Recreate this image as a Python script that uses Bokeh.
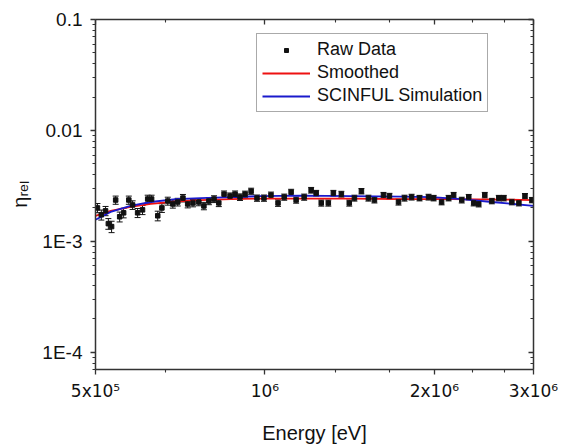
from bokeh.plotting import figure
from bokeh.models import (LogAxis, FixedTicker, CustomJSTickFormatter, Whisker, TeeHead,
                          ColumnDataSource, Range1d, Legend, LegendItem)
from bokeh.embed import file_html
from bokeh.resources import INLINE

# ---- data ----
energy_keV = [504, 512, 521, 527, 534, 543, 552, 561, 573, 582, 594, 606, 619, 629, 645,
              656, 672, 686, 700, 715, 729, 745, 763, 779, 795, 812, 828, 846, 867, 885,
              903, 922, 945, 968, 996, 1025, 1055, 1082, 1113, 1136, 1174, 1208, 1233, 1259,
              1296, 1323, 1367, 1412, 1442, 1484, 1527, 1565, 1624, 1664, 1727, 1770, 1822,
              1882, 1953, 1994, 2060, 2120, 2164, 2237, 2302, 2349, 2398, 2458, 2530, 2603,
              2657, 2746, 2826, 2897, 2981]
eta_raw_e3 = [2.003, 1.736, 1.884, 1.445, 1.359, 2.359, 1.667, 1.809, 2.359, 2.130, 1.809,
              1.923, 2.407, 2.407, 1.701, 2.003, 2.311, 2.174, 2.264, 2.457, 2.174, 2.218,
              2.264, 2.087, 2.311, 2.407, 2.218, 2.666, 2.560, 2.666, 2.508, 2.666, 2.835,
              2.457, 2.457, 2.612, 2.218, 2.508, 2.777, 2.359, 2.508, 2.893, 2.721, 2.218,
              2.218, 2.721, 2.666, 2.218, 2.457, 2.835, 2.457, 2.359, 2.612, 2.560, 2.264,
              2.457, 2.508, 2.457, 2.508, 2.457, 2.264, 2.457, 2.612, 2.359, 2.508, 2.218,
              2.174, 2.612, 2.311, 2.457, 2.457, 2.264, 2.218, 2.560, 2.359]
eta_err_e3 = [0.19, 0.18, 0.18, 0.16, 0.16, 0.20, 0.17, 0.18, 0.20, 0.19, 0.17,
              0.18, 0.20, 0.20, 0.17, 0.18, 0.19, 0.18, 0.18, 0.19, 0.17, 0.17,
              0.17, 0.16, 0.17, 0.17, 0.16, 0.18, 0.17, 0.18, 0.17, 0.17, 0.18,
              0.16, 0.16, 0.17, 0.15, 0.16, 0.17, 0.15, 0.16, 0.17, 0.16, 0.14,
              0.14, 0.16, 0.16, 0.14, 0.15, 0.16, 0.15, 0.14, 0.15, 0.15, 0.14,
              0.15, 0.15, 0.14, 0.15, 0.14, 0.13, 0.14, 0.15, 0.14, 0.14, 0.13,
              0.13, 0.15, 0.13, 0.14, 0.14, 0.13, 0.13, 0.14, 0.13]

smooth_keV = [500, 532, 577, 627, 694, 769, 870, 984, 1160, 1424, 1748, 2147, 2636, 3000]
smooth_e3 = [1.701, 1.884, 2.044, 2.174, 2.287, 2.359, 2.407, 2.432, 2.432, 2.432, 2.407,
             2.407, 2.383, 2.359]

sim_keV = [500, 532, 577, 627, 694, 769, 870, 984, 1160, 1424, 1748, 1977, 2237, 2530, 3000]
sim_e3 = [1.568, 1.846, 2.087, 2.264, 2.407, 2.457, 2.508, 2.560, 2.586, 2.560, 2.534,
          2.508, 2.407, 2.264, 2.087]

x_ticks = [5e5, 1e6, 2e6, 3e6]
x_tick_labels = ["5x10\u2075", "10\u2076", "2x10\u2076", "3x10\u2076"]
x_minor = [6.667e5, 1.333e6, 1.667e6, 2.333e6, 2.667e6]
y_ticks = [1e-4, 1e-3, 1e-2, 1e-1]
y_tick_labels = ["1E-4", "1E-3", "0.01", "0.1"]
y_minor = [k * 10.0 ** n for n in (-5, -4, -3, -2) for k in range(2, 10)]

# ---- derived columns ----
E = [v * 1e3 for v in energy_keV]
Y = [v * 1e-3 for v in eta_raw_e3]
ERR = [v * 1e-3 for v in eta_err_e3]
src = ColumnDataSource(dict(x=E, y=Y,
                            lo=[a - b for a, b in zip(Y, ERR)],
                            hi=[a + b for a, b in zip(Y, ERR)]))

FONT = "Liberation Sans"
AX = "#333333"

p = figure(width=563, height=446, x_axis_type="log", y_axis_type="log",
           x_range=Range1d(5e5, 3e6), y_range=Range1d(7e-5, 0.1),
           output_backend="svg", toolbar_location=None,
           min_border_left=95, min_border_right=30, min_border_top=19, min_border_bottom=72)
p.outline_line_color = None
p.xgrid.visible = False
p.ygrid.visible = False
p.background_fill_color = "white"
p.border_fill_color = "white"


def fmt(ticks, labels):
    return CustomJSTickFormatter(args=dict(T=ticks, L=labels), code="""
        for (let i = 0; i < T.length; i++) {
            if (Math.abs(Math.log10(tick) - Math.log10(T[i])) < 1e-6) return L[i];
        }
        return "";
    """)


blank = CustomJSTickFormatter(code="return '';")


def style(ax, inward):
    ax.axis_line_color = AX
    ax.axis_line_width = 1.5
    ax.major_tick_line_color = AX
    ax.minor_tick_line_color = AX
    ax.major_tick_line_width = 1.3
    ax.minor_tick_line_width = 1.1
    if inward:
        ax.major_tick_in, ax.major_tick_out = 5, 0
        ax.minor_tick_in, ax.minor_tick_out = 3, 0
        ax.formatter = blank
        ax.major_label_standoff = 0
    else:
        ax.major_tick_in, ax.major_tick_out = 0, 5
        ax.minor_tick_in, ax.minor_tick_out = 0, 3
        ax.major_label_text_font = FONT
        ax.major_label_text_font_size = "19px"
        ax.major_label_text_color = "#111111"
        ax.axis_label_text_font = FONT
        ax.axis_label_text_font_size = "20px"
        ax.axis_label_text_font_style = "normal"
        ax.axis_label_text_color = "#111111"


xt = FixedTicker(ticks=x_ticks, minor_ticks=x_minor)
yt = FixedTicker(ticks=y_ticks, minor_ticks=y_minor)

style(p.xaxis[0], False)
style(p.yaxis[0], False)
p.xaxis.ticker = xt
p.xaxis.formatter = fmt(x_ticks, x_tick_labels)
p.xaxis.axis_label = "Energy [eV]"
p.xaxis.major_label_text_font = "DejaVu Sans"
p.xaxis.major_label_text_font_size = "17px"
p.xaxis.major_label_standoff = 6
p.xaxis.axis_label_standoff = 18
p.yaxis.ticker = yt
p.yaxis.formatter = fmt(y_ticks, y_tick_labels)
p.yaxis.axis_label = "\u03b7\u1d63\u2091\u2097"
p.yaxis.major_label_standoff = 8
p.yaxis.axis_label_standoff = 8

top = LogAxis(ticker=FixedTicker(ticks=x_ticks, minor_ticks=x_minor))
right = LogAxis(ticker=FixedTicker(ticks=y_ticks, minor_ticks=y_minor))
style(top, True)
style(right, True)
p.add_layout(top, "above")
p.add_layout(right, "right")

r_s = p.line([v * 1e3 for v in smooth_keV], [v * 1e-3 for v in smooth_e3],
             line_color="#ee1111", line_width=1.8)
r_b = p.line([v * 1e3 for v in sim_keV], [v * 1e-3 for v in sim_e3],
             line_color="#1a1acc", line_width=1.8)

wh = Whisker(source=src, base="x", upper="hi", lower="lo", line_color="#111111",
             line_width=1,
             upper_head=TeeHead(size=6, line_color="#111111", line_width=1),
             lower_head=TeeHead(size=6, line_color="#111111", line_width=1))
p.add_layout(wh)
r_p = p.scatter("x", "y", source=src, marker="square", size=4.5, color="#111111")

legend = Legend(items=[LegendItem(label="Raw Data", renderers=[r_p]),
                       LegendItem(label="Smoothed", renderers=[r_s]),
                       LegendItem(label="SCINFUL Simulation", renderers=[r_b])],
                location=(161, 257))
legend.label_text_font = FONT
legend.label_text_font_size = "18px"
legend.label_text_color = "#111111"
legend.border_line_color = "#555555"
legend.border_line_width = 1
legend.padding = 5
legend.spacing = 2
legend.glyph_width = 48
legend.glyph_height = 10
legend.label_height = 20
legend.label_standoff = 7
legend.margin = 0
p.add_layout(legend)

open("out.html", "w").write(file_html(p, INLINE))
